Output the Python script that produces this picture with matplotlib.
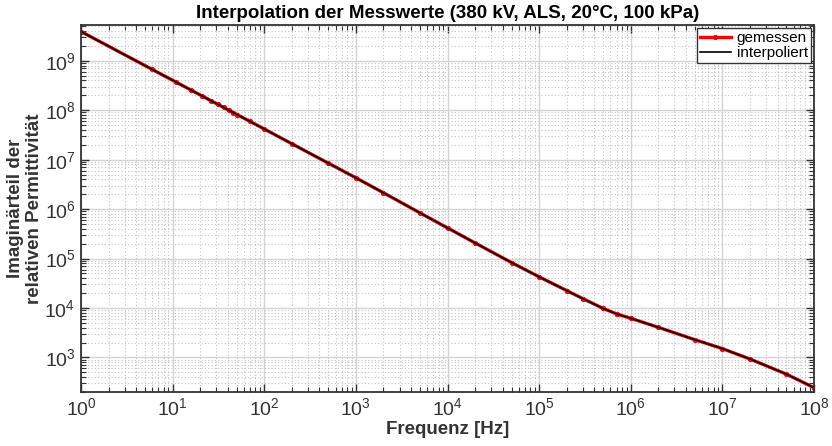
"""Interpolation der Messwerte – Imaginärteil der relativen Permittivität über Frequenz"""

import numpy as np
import matplotlib
matplotlib.use('Agg')
import matplotlib.pyplot as plt
from matplotlib.ticker import LogLocator, NullFormatter

plt.rcParams['font.family'] = ['Liberation Sans', 'DejaVu Sans']

# Messpunkte
freq = [1, 6, 11, 16, 21, 26, 31, 36, 41, 46, 51, 70, 100, 200, 500,
        1e3, 2e3, 5e3, 1e4, 2e4, 5e4, 1e5, 2e5, 3e5, 5e5, 7e5, 1e6,
        2e6, 5e6, 1e7, 2e7, 5e7, 1e8]
eps_imag = [3.9e9, 6.67e8, 3.67e8, 2.54e8, 1.94e8, 1.57e8, 1.32e8, 1.14e8,
            1.0e8, 8.95e7, 8.09e7, 5.93e7, 4.17e7, 2.1e7, 8.5e6,
            4.3e6, 2.14e6, 8.4e5, 4.17e5, 2.07e5, 8.3e4, 4.27e4, 2.25e4,
            1.55e4, 9.8e3, 7.6e3, 6.2e3,
            4.07e3, 2.29e3, 1.51e3, 9.3e2, 4.6e2, 2.45e2]

xticks = [1e0, 1e1, 1e2, 1e3, 1e4, 1e5, 1e6, 1e7, 1e8]
yticks = [1e3, 1e4, 1e5, 1e6, 1e7, 1e8, 1e9]

fig = plt.figure(figsize=(8.32, 4.46), dpi=100)
ax = fig.add_axes([0.0974, 0.121, 0.8810, 0.823])

ax.loglog(freq, eps_imag, color='red', lw=2.4, marker='.', ms=5.5, label='gemessen')
ax.loglog(freq, eps_imag, color='black', lw=1.2, label='interpoliert')

ax.set_xlim(1, 1e8)
ax.set_ylim(2e2, 5.3e9)
ax.set_xticks(xticks)
ax.set_yticks(yticks)
ax.xaxis.set_minor_locator(LogLocator(base=10, subs=np.arange(2, 10), numticks=20))
ax.yaxis.set_minor_locator(LogLocator(base=10, subs=np.arange(2, 10), numticks=20))
ax.xaxis.set_minor_formatter(NullFormatter())
ax.yaxis.set_minor_formatter(NullFormatter())

ax.grid(True, which='major', color='#d4d4d4', lw=1.0, ls='-')
ax.grid(True, which='minor', color='#c4c4c4', lw=0.8, ls=(0, (1, 2)))
ax.set_axisbelow(True)

ax.tick_params(which='both', direction='in', top=True, right=True,
               colors='#333333', labelsize=14, pad=4)
ax.tick_params(which='major', length=6, width=1.0)
ax.tick_params(which='minor', length=3.5, width=0.8)
for s in ax.spines.values():
    s.set_color('#333333')
    s.set_linewidth(1.3)

ax.set_title('Interpolation der Messwerte (380 kV, ALS, 20°C, 100 kPa)',
             fontsize=13.5, fontweight='bold', pad=5)
ax.set_xlabel('Frequenz [Hz]', fontsize=13.5, fontweight='bold', color='#333333', labelpad=1)
ax.set_ylabel('Imaginärteil der\nrelativen Permittivität', fontsize=13.5,
              fontweight='bold', color='#333333', labelpad=1)

leg = ax.legend(loc='upper right', fontsize=11, fancybox=False, framealpha=1,
                edgecolor='#333333', borderpad=0.2, handlelength=2.0,
                handletextpad=0.4, labelspacing=0.05, borderaxespad=0.2)
leg.get_frame().set_linewidth(1.0)

fig.savefig('out.png', dpi=100)
